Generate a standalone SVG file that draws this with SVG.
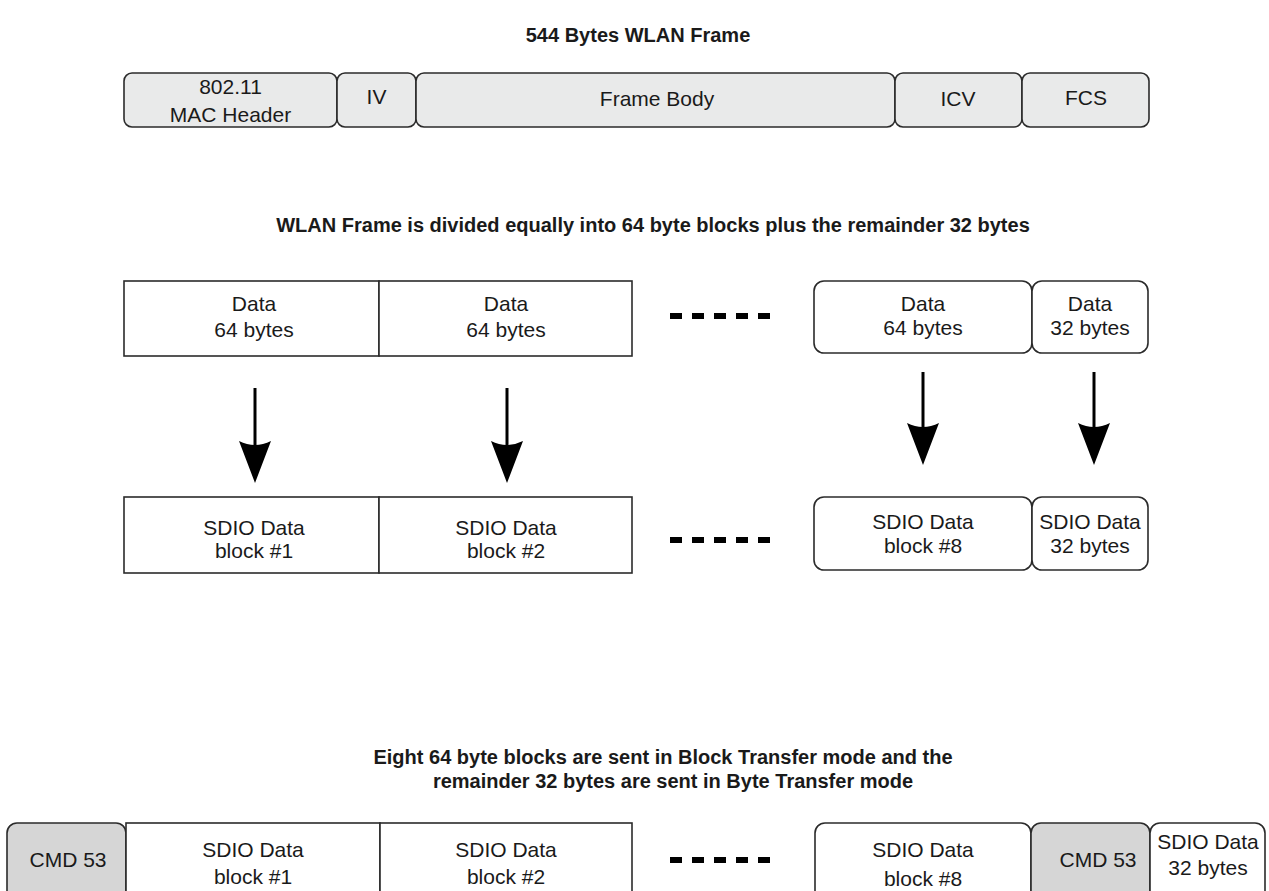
<svg xmlns="http://www.w3.org/2000/svg" width="1269" height="891" viewBox="0 0 1269 891">
<style>
text{font-family:"Liberation Sans",Arial,Helvetica,sans-serif;fill:#1a1a1a;text-anchor:middle}
.t{font-size:21px}
.h{font-size:20px;font-weight:bold}
.fr{fill:#e9eaea;stroke:#2b2b2b;stroke-width:1.6}
.bx{fill:#ffffff;stroke:#2b2b2b;stroke-width:1.6}
.cmd{fill:#d6d6d6;stroke:#2b2b2b;stroke-width:1.6}
.dash{stroke:#000;stroke-width:6;stroke-dasharray:12 10}
.arr{stroke:#000;stroke-width:3;fill:none;marker-end:url(#ah)}
</style>
<defs>
<marker id="ah" viewBox="0 0 42 34" refX="4" refY="17" markerWidth="42" markerHeight="34" markerUnits="userSpaceOnUse" orient="auto">
<path d="M0,1 L42,17 L0,33 Q8,17 0,1 Z" fill="#000"/>
</marker>
</defs>
<rect width="1269" height="891" fill="#fff"/>

<g id="titles">
<text class="h" x="638" y="42">544 Bytes WLAN Frame</text>
<text class="h" x="653" y="232">WLAN Frame is divided equally into 64 byte blocks plus the remainder 32 bytes</text>
<text class="h" x="663" y="764">Eight 64 byte blocks are sent in Block Transfer mode and the</text>
<text class="h" x="673" y="788">remainder 32 bytes are sent in Byte Transfer mode</text>
</g>

<g id="frame-mac"><rect class="fr" x="124" y="73" width="213" height="54" rx="8"/><text class="t" x="230.5" y="94">802.11</text><text class="t" x="230.5" y="122">MAC Header</text></g>
<g id="frame-iv"><rect class="fr" x="337" y="73" width="79" height="54" rx="8"/><text class="t" x="376.5" y="104">IV</text></g>
<g id="frame-body"><rect class="fr" x="416" y="73" width="479" height="54" rx="8"/><text class="t" x="657" y="106">Frame Body</text></g>
<g id="frame-icv"><rect class="fr" x="895" y="73" width="127" height="54" rx="8"/><text class="t" x="958" y="106">ICV</text></g>
<g id="frame-fcs"><rect class="fr" x="1022" y="73" width="127" height="54" rx="8"/><text class="t" x="1086" y="105">FCS</text></g>

<g id="data1"><rect class="bx" x="124" y="281" width="255" height="75"/><text class="t" x="254" y="311">Data</text><text class="t" x="254" y="337">64 bytes</text></g>
<g id="data2"><rect class="bx" x="379" y="281" width="253" height="75"/><text class="t" x="506" y="311">Data</text><text class="t" x="506" y="337">64 bytes</text></g>
<g id="data8"><rect class="bx" x="814" y="281" width="218" height="72" rx="10"/><text class="t" x="923" y="311">Data</text><text class="t" x="923" y="335">64 bytes</text></g>
<g id="data32"><rect class="bx" x="1032" y="281" width="116" height="72" rx="10"/><text class="t" x="1090" y="311">Data</text><text class="t" x="1090" y="335">32 bytes</text></g>

<g id="sdio1"><rect class="bx" x="124" y="497" width="255" height="76"/><text class="t" x="254" y="535">SDIO Data</text><text class="t" x="254" y="558">block #1</text></g>
<g id="sdio2"><rect class="bx" x="379" y="497" width="253" height="76"/><text class="t" x="506" y="535">SDIO Data</text><text class="t" x="506" y="558">block #2</text></g>
<g id="sdio8"><rect class="bx" x="814" y="497" width="218" height="73" rx="10"/><text class="t" x="923" y="529">SDIO Data</text><text class="t" x="923" y="553">block #8</text></g>
<g id="sdio32"><rect class="bx" x="1032" y="497" width="116" height="73" rx="10"/><text class="t" x="1090" y="529">SDIO Data</text><text class="t" x="1090" y="553">32 bytes</text></g>

<g id="b-cmd1"><rect class="cmd" x="7" y="823" width="119" height="100" rx="10"/><text class="t" x="68" y="867">CMD 53</text></g>
<g id="b-sdio1"><rect class="bx" x="126" y="823" width="254" height="100"/><text class="t" x="253" y="857">SDIO Data</text><text class="t" x="253" y="884">block #1</text></g>
<g id="b-sdio2"><rect class="bx" x="380" y="823" width="252" height="100"/><text class="t" x="506" y="857">SDIO Data</text><text class="t" x="506" y="884">block #2</text></g>
<g id="b-sdio8"><rect class="bx" x="815" y="823" width="216" height="100" rx="10"/><text class="t" x="923" y="857">SDIO Data</text><text class="t" x="923" y="886">block #8</text></g>
<g id="b-cmd2"><rect class="cmd" x="1031" y="823" width="119" height="100" rx="10"/><text class="t" x="1098" y="867">CMD 53</text></g>
<g id="b-sdio32"><rect class="bx" x="1150" y="823" width="115" height="100" rx="10"/><text class="t" x="1208" y="849">SDIO Data</text><text class="t" x="1208" y="875">32 bytes</text></g>

<g id="connectors">
<line class="dash" x1="670" y1="316" x2="770" y2="316"/>
<line class="dash" x1="670" y1="540" x2="770" y2="540"/>
<line class="dash" x1="670" y1="860" x2="770" y2="860"/>
<line class="arr" x1="255" y1="388" x2="255" y2="445"/>
<line class="arr" x1="507" y1="388" x2="507" y2="445"/>
<line class="arr" x1="923" y1="372" x2="923" y2="427"/>
<line class="arr" x1="1094" y1="372" x2="1094" y2="427"/>
</g>
</svg>
